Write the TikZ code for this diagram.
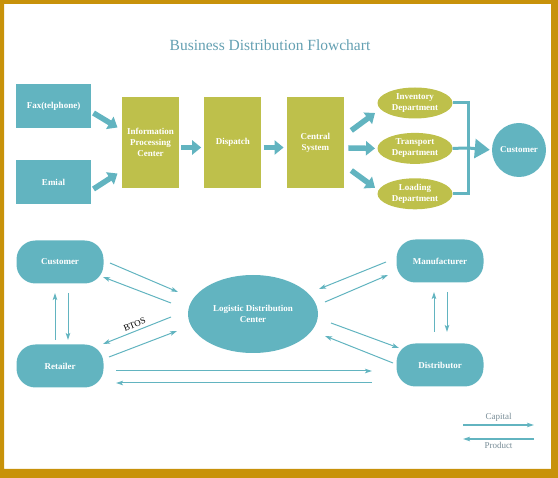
\documentclass[tikz,border=0pt]{standalone}
\usepackage{fontspec}
\setmainfont{Liberation Serif}
\usepackage{xcolor}
\usetikzlibrary{shapes,shapes.geometric,positioning,arrows.meta}
\definecolor{tealbox}{RGB}{98,180,192}
\definecolor{olivebox}{RGB}{190,192,75}
\definecolor{goldframe}{RGB}{200,146,10}
\definecolor{titleblue}{RGB}{100,160,178}
\definecolor{legendgray}{RGB}{120,140,150}

\begin{document}
\begin{tikzpicture}[x=1pt,y=-1pt,
    boxfont/.style={text=white,font=\fontsize{9}{11}\selectfont\bfseries,align=center,inner sep=0pt},
    tbox/.style={boxfont,fill=tealbox,minimum width=75pt,minimum height=44pt},
    obox/.style={boxfont,fill=olivebox,minimum width=57pt,minimum height=91pt},
    odep/.style={boxfont,ellipse,fill=olivebox,minimum width=75pt,minimum height=31pt},
    pill/.style={boxfont,fill=tealbox,rounded corners=19pt,minimum width=87pt,minimum height=43pt},
    fat/.style={draw=tealbox,line width=5.5pt,-{Triangle[length=9pt,width=14pt]}},
    brk/.style={draw=tealbox,line width=3pt},
    thinarr/.style={draw=tealbox,line width=1pt,-{Stealth[length=7pt,width=4.5pt,inset=1.5pt]}},
    legtext/.style={text=legendgray,font=\fontsize{9}{10}\selectfont,inner sep=1pt}]
    \useasboundingbox (0,0) rectangle (558,478);
    \fill[goldframe,even odd rule] (0,0) rectangle (558,478) (4,4) rectangle (551,469);

    \node (title) [text=titleblue,font=\fontsize{15.5}{18}\selectfont] at (270,45) {Business Distribution Flowchart};

    % order flow
    \node (fax_in) [tbox] at (53.5,106) {Fax(telphone)};
    \node (mail_in) [tbox] at (53.5,182) {Emial};
    \node (info_c) [obox] at (150.5,142.5) {Information\\Processing\\Center};
    \node (disp_c) [obox, right=25pt of info_c] {Dispatch};
    \node (cen_sys) [obox, right=25pt of disp_c] {Central\\System};
    \node (dep_inv) [odep] at (415,103) {Inventory\\Department};
    \node (dep_tra) [odep, below=14pt of dep_inv] {Transport\\Department};
    \node (dep_load) [odep, below=14pt of dep_tra] {Loading\\Department};
    \node (cust_top) [boxfont,circle,fill=tealbox,minimum size=54pt] at (519,150) {Customer};
    \coordinate (join) at (468,148);

    \draw[fat] ([shift={(40,7)}]fax_in.center) -- ([shift={(-33,-15)}]info_c.center);
    \draw[fat] ([shift={(40,7)}]mail_in.center) -- ([shift={(-33,31)}]info_c.center);
    \draw[fat] ([shift={(2,5)}]info_c.east) -- ([shift={(-3,5)}]disp_c.west);
    \draw[fat] ([shift={(2,5)}]disp_c.east) -- ([shift={(-3,5)}]cen_sys.west);
    \draw[fat] ([shift={(36,-12)}]cen_sys.center) -- ([shift={(-40,10)}]dep_inv.center);
    \draw[fat] ([shift={(33,5.5)}]cen_sys.center) -- ([shift={(-40,0)}]dep_tra.center);
    \draw[fat] ([shift={(36,28)}]cen_sys.center) -- ([shift={(-40,-6)}]dep_load.center);

    \draw[brk] (dep_inv.east) -| (join);
    \draw[brk] (dep_load.east) -| (join);
    \draw[brk] (dep_tra.east) -- (join);
    \draw[brk,-{Triangle[length=15pt,width=19pt]},shorten >=2pt] (join) -- (cust_top.west);

    % distribution network
    \node (cust) [pill] at (60,262) {Customer};
    \node (ret) [pill] at (60,366) {Retailer};
    \node (manu) [pill] at (440,261) {Manufacturer};
    \node (dist) [pill] at (440,365) {Distributor};
    \node (ldc) [boxfont,ellipse,fill=tealbox,minimum width=130pt,minimum height=78pt] at (253,314) {Logistic Distribution\\Center};

    \draw[thinarr] ([shift={(50,1)}]cust.center) -- ([shift={(-75,-22)}]ldc.center);
    \draw[thinarr] ([shift={(-82,-11)}]ldc.center) -- ([shift={(43,15)}]cust.center);
    \draw[thinarr] ([shift={(-5,-26)}]ret.center) -- ([shift={(-5,31)}]cust.center);
    \draw[thinarr] ([shift={(8,31)}]cust.center) -- ([shift={(8,-26)}]ret.center);
    \draw[thinarr] ([shift={(-82,3)}]ldc.center) -- node[sloped,above=3pt,font=\fontsize{9}{10}\selectfont,inner sep=0pt] {BTOS} ([shift={(43,-22)}]ret.center);
    \draw[thinarr] ([shift={(49,-9)}]ret.center) -- ([shift={(-76,17)}]ldc.center);
    \draw[thinarr] ([shift={(56,5)}]ret.center) -- ([shift={(-68,6)}]dist.center);
    \draw[thinarr] ([shift={(-68,18)}]dist.center) -- ([shift={(56,17)}]ret.center);
    \draw[thinarr] ([shift={(-54,1)}]manu.center) -- ([shift={(66,-25)}]ldc.center);
    \draw[thinarr] ([shift={(72,-12)}]ldc.center) -- ([shift={(-52,14)}]manu.center);
    \draw[thinarr] ([shift={(-6,-33)}]dist.center) -- ([shift={(-6,31)}]manu.center);
    \draw[thinarr] ([shift={(7,31)}]manu.center) -- ([shift={(7,-33)}]dist.center);
    \draw[thinarr] ([shift={(78,9)}]ldc.center) -- ([shift={(-41,-17)}]dist.center);
    \draw[thinarr] ([shift={(-47,-2)}]dist.center) -- ([shift={(72,22)}]ldc.center);

    % legend
    \coordinate (cap_a) at (463,425);
    \coordinate (cap_b) at (534,425);
    \coordinate (prod_a) at (463,439);
    \coordinate (prod_b) at (534,439);
    \draw[thinarr,line width=1.3pt] (cap_a) -- node[legtext,above=2pt] {Capital} (cap_b);
    \draw[thinarr,line width=1.3pt] (prod_b) -- node[legtext,below=2pt] {Product} (prod_a);
\end{tikzpicture}
\end{document}
